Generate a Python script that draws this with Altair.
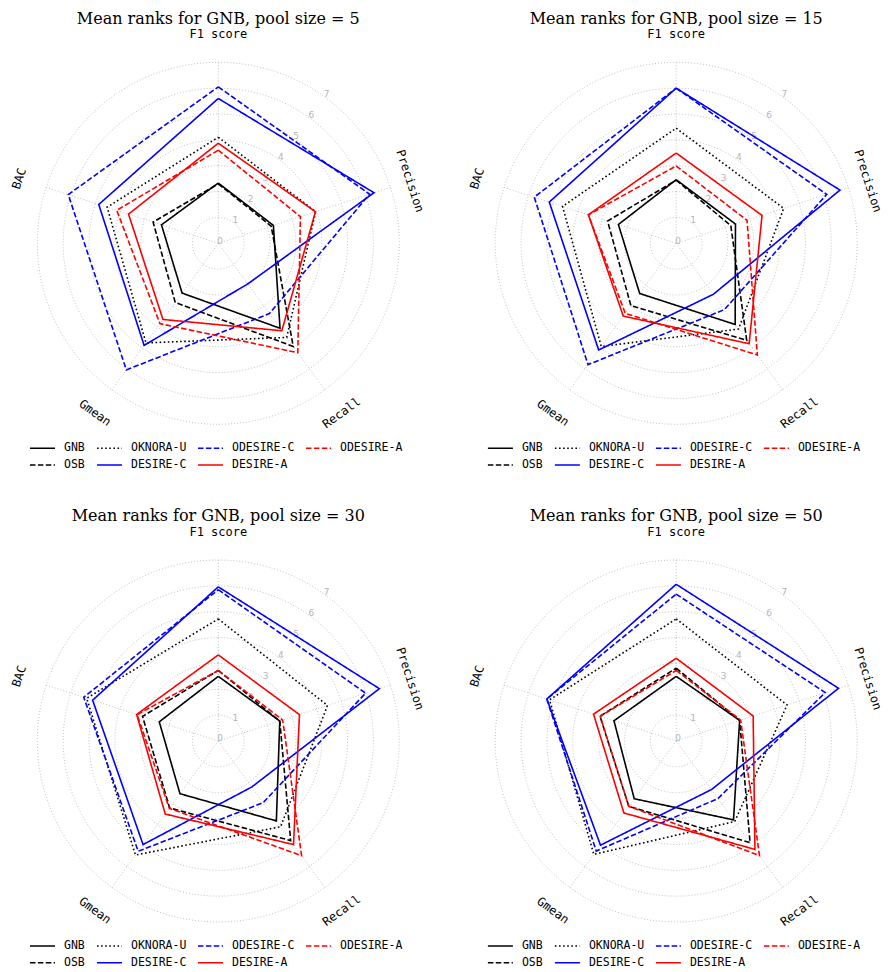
import altair as alt
import pandas as pd

metrics = ["F1 score", "Precision", "Recall", "Gmean", "BAC"]
methods = ["GNB", "OSB", "OKNORA-U", "DESIRE-C", "ODESIRE-C", "DESIRE-A", "ODESIRE-A"]
legend_order = ["GNB", "OKNORA-U", "ODESIRE-C", "ODESIRE-A", "OSB", "DESIRE-C", "DESIRE-A"]
pool_sizes = [5, 15, 30, 50]
ring_levels = [1, 2, 3, 4, 5, 6, 7]
tick_labels = ["0", "1", "2", "3", "4", "5", "6", "7"]

# mean ranks, order of values: F1 score, Precision, Recall, Gmean, BAC
ranks_pool5 = {
    "GNB":       [2.33, 2.24, 4.06, 2.38, 2.31],
    "OSB":       [2.30, 2.15, 4.93, 2.83, 2.65],
    "OKNORA-U":  [4.10, 3.96, 4.50, 4.76, 4.52],
    "DESIRE-C":  [5.60, 6.33, 1.94, 4.88, 4.86],
    "ODESIRE-C": [6.05, 6.15, 3.36, 6.05, 6.10],
    "DESIRE-A":  [3.87, 3.95, 4.18, 3.64, 3.65],
    "ODESIRE-A": [3.60, 3.34, 5.23, 3.84, 4.13],
}
ranks_pool15 = {
    "GNB":       [2.46, 2.41, 3.88, 2.40, 2.35],
    "OSB":       [2.44, 2.22, 4.64, 2.98, 2.79],
    "OKNORA-U":  [4.45, 4.37, 4.10, 4.93, 4.62],
    "DESIRE-C":  [6.00, 6.66, 2.44, 5.10, 5.16],
    "ODESIRE-C": [6.00, 6.12, 3.17, 5.80, 5.77],
    "DESIRE-A":  [3.49, 3.49, 4.80, 3.48, 3.57],
    "ODESIRE-A": [2.99, 2.88, 5.34, 3.35, 3.57],
}
ranks_pool30 = {
    "GNB":       [2.50, 2.50, 3.82, 2.52, 2.40],
    "OSB":       [2.73, 2.50, 4.76, 3.20, 3.08],
    "OKNORA-U":  [4.72, 4.44, 4.10, 5.45, 5.35],
    "DESIRE-C":  [5.96, 6.55, 2.20, 4.95, 5.11],
    "ODESIRE-C": [5.85, 5.99, 2.95, 5.27, 5.47],
    "DESIRE-A":  [3.33, 3.30, 4.95, 3.49, 3.32],
    "ODESIRE-A": [2.73, 2.62, 5.48, 3.22, 3.30],
}
ranks_pool50 = {
    "GNB":       [2.50, 2.58, 3.77, 2.76, 2.53],
    "OSB":       [2.82, 2.58, 4.86, 3.12, 3.10],
    "OKNORA-U":  [4.72, 4.51, 3.85, 5.42, 5.15],
    "DESIRE-C":  [6.06, 6.60, 2.32, 4.98, 5.26],
    "ODESIRE-C": [5.68, 6.06, 2.75, 5.26, 5.26],
    "DESIRE-A":  [3.20, 3.13, 5.18, 3.44, 3.36],
    "ODESIRE-A": [2.73, 2.62, 5.48, 3.12, 3.09],
}
all_ranks = [ranks_pool5, ranks_pool15, ranks_pool30, ranks_pool50]

color_map = {"GNB": "#000000", "OSB": "#000000", "OKNORA-U": "#000000",
             "DESIRE-C": "#0000ff", "ODESIRE-C": "#0000ff",
             "DESIRE-A": "#ff0000", "ODESIRE-A": "#ff0000"}
SOLID, DASHED, DOTTED = [1, 0], [5.5, 2.4], [1.6, 2.5]
dash_map = {"GNB": SOLID, "OSB": DASHED, "OKNORA-U": DOTTED, "DESIRE-C": SOLID,
            "ODESIRE-C": DASHED, "DESIRE-A": SOLID, "ODESIRE-A": DASHED}

W, H = 415, 460
XDOM = [-8.132, 7.916]
YDOM = [-8.689, 9.099]
MONO = "DejaVu Sans Mono"

X = alt.X("x:Q", scale=alt.Scale(domain=XDOM, nice=False, zero=False), axis=None)
Y = alt.Y("y:Q", scale=alt.Scale(domain=YDOM, nice=False, zero=False), axis=None)

ring_df = pd.DataFrame([{"r": r, "deg": d} for r in ring_levels for d in range(0, 361, 3)])
spoke_df = pd.DataFrame([{"k": k, "r": r} for k in range(len(metrics)) for r in (0, ring_levels[-1])])
tick_df = pd.DataFrame({"label": tick_labels, "r": list(range(len(tick_labels)))})
metric_df = pd.DataFrame({"metric": metrics, "k": list(range(len(metrics)))})


def panel(ranks, pool):
    rows = []
    for m in methods:
        vals = ranks[m]
        for i in range(len(metrics) + 1):
            rows.append({"method": m, "k": i % len(metrics), "order": i, "rank": vals[i % len(metrics)]})
    lines_df = pd.DataFrame(rows)

    rings = alt.Chart(ring_df).transform_calculate(
        x="datum.r*sin(datum.deg*PI/180)", y="datum.r*cos(datum.deg*PI/180)"
    ).mark_line(color="#bdbdbd", strokeWidth=0.9, strokeDash=[1, 2]).encode(
        x=X, y=Y, detail="r:N", order="deg:Q")

    spokes = alt.Chart(spoke_df).transform_calculate(
        x="datum.r*sin(datum.k*2*PI/5)", y="datum.r*cos(datum.k*2*PI/5)"
    ).mark_line(color="#bdbdbd", strokeWidth=0.9, strokeDash=[1, 2]).encode(
        x=X, y=Y, detail="k:N", order="r:Q")

    ticks = alt.Chart(tick_df).transform_calculate(
        x="(datum.r+0.12)*sin(36*PI/180)", y="(datum.r+0.12)*cos(36*PI/180)"
    ).mark_text(color="#b5b5b5", fontSize=9, font="DejaVu Sans", align="center", baseline="middle").encode(
        x=X, y=Y, text="label:N")

    labels = alt.Chart(metric_df).transform_calculate(
        a="datum.k*72",
        lr="datum.k == 1 ? 7.8 : 8.1",
    ).transform_calculate(
        x="datum.lr*sin(datum.a*PI/180)", y="datum.lr*cos(datum.a*PI/180)",
        rot="(datum.a > 90 && datum.a < 270) ? (datum.a + 180) % 360 : datum.a",
    ).mark_text(color="black", fontSize=12, font=MONO, align="center", baseline="middle").encode(
        x=X, y=Y, text="metric:N", angle=alt.Angle("rot:Q", scale=None))

    title_df = pd.DataFrame({"t": [f"Mean ranks for GNB, pool size = {pool}"]})
    title = alt.Chart(title_df).transform_calculate(x="0", y="9.0").mark_text(
        color="black", fontSize=16, font="DejaVu Serif", align="center", baseline="top").encode(
        x=X, y=Y, text="t:N")

    leg = alt.Legend(orient="none", legendX=28.5, legendY=434, direction="horizontal", columns=4,
                     symbolType="M-2.5,0H2.5", symbolSize=100, symbolStrokeWidth=1.6,
                     labelFont=MONO, labelFontSize=11.5, labelColor="black", labelOffset=15.5,
                     columnPadding=8, rowPadding=5, title=None, padding=0)
    lines = alt.Chart(lines_df).transform_calculate(
        x="datum.rank*sin(datum.k*2*PI/5)", y="datum.rank*cos(datum.k*2*PI/5)"
    ).mark_line(strokeWidth=1.6).encode(
        x=X, y=Y, order="order:Q",
        color=alt.Color("method:N", scale=alt.Scale(domain=legend_order,
                        range=[color_map[m] for m in legend_order]), legend=leg),
        strokeDash=alt.StrokeDash("method:N", scale=alt.Scale(domain=legend_order,
                                  range=[dash_map[m] for m in legend_order]), legend=leg),
    )
    return alt.layer(rings, spokes, ticks, labels, title, lines).properties(width=W, height=H)


panels = [panel(r, p) for r, p in zip(all_ranks, pool_sizes)]
chart = alt.concat(*panels, columns=2, spacing={"row": 37.7, "column": 42.9}, bounds="flush").resolve_scale(
    color="independent", strokeDash="independent").resolve_legend(
    color="independent", strokeDash="independent").configure_view(stroke=None).properties(padding=0)

chart.save("out.html", embed_options={"renderer": "svg", "actions": False})
